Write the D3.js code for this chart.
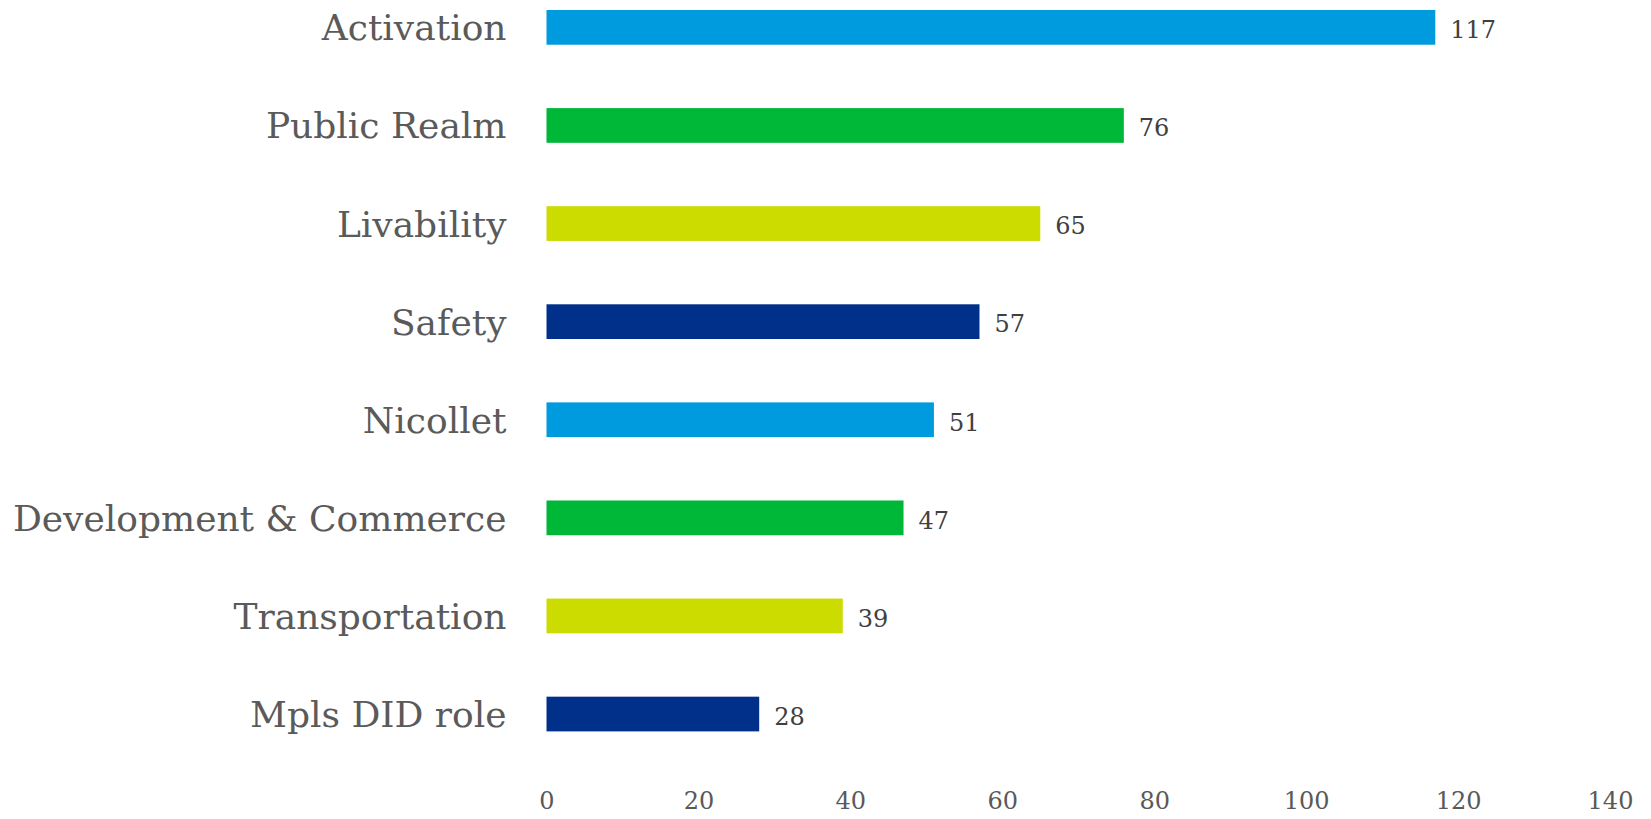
<!DOCTYPE html>
<head>
  <title>bars by topic</title>
  <style>
    body { margin: 0; background: #fff; }
    .cat { font-family: "DejaVu Serif", serif; font-size: 36px; fill: #5a5a5a; }
    .val { font-family: "DejaVu Serif", serif; font-size: 24px; fill: #404040; }
    .axis text { font-family: "DejaVu Serif", serif; font-size: 24px; fill: #595959; }
  </style>
</head>
<body>
  <script src="https://cdn.jsdelivr.net/npm/d3@7"></script>
  <script>
    // data
    var categories = ["Activation", "Public Realm", "Livability", "Safety", "Nicollet",
                      "Development & Commerce", "Transportation", "Mpls DID role"];
    var counts = [117, 76, 65, 57, 51, 47, 39, 28];
    var barColors = ["#009ade", "#00b837", "#ccdb00", "#00308a"];
    var xTicks = [0, 20, 40, 60, 80, 100, 120, 140];

    var width = 1651, height = 819;

    var svg = d3.select('body')
                .append('svg')
                    .attr('width', width)
                    .attr('height', height);

    var xScale = d3.scaleLinear().domain([0, 140]).range([546.5, 1610]);
    var yScale = d3.scaleBand()
                   .domain(categories)
                   .range([10, 731.4])
                   .paddingInner(0.646)
                   .paddingOuter(0);

    var data = categories.map(function(c, i) { return {name: c, value: counts[i], idx: i}; });

    // bars
    svg.selectAll('rect.bar')
      .data(data)
      .enter()
      .append('rect')
      .attr('class', 'bar')
      .attr('x', xScale(0))
      .attr('y', function(d) { return yScale(d.name); })
      .attr('width', function(d) { return xScale(d.value) - xScale(0); })
      .attr('height', yScale.bandwidth())
      .attr('fill', function(d) { return barColors[d.idx % barColors.length]; });

    // category labels
    svg.selectAll('text.cat')
      .data(data)
      .enter()
      .append('text')
      .attr('class', 'cat')
      .attr('text-anchor', 'end')
      .attr('x', xScale(0) - 40)
      .attr('y', function(d) { return yScale(d.name) + yScale.bandwidth() / 2; })
      .attr('dy', '0.36em')
      .text(function(d) { return d.name; });

    // value labels
    svg.selectAll('text.val')
      .data(data)
      .enter()
      .append('text')
      .attr('class', 'val')
      .attr('x', function(d) { return xScale(d.value) + 15; })
      .attr('y', function(d) { return yScale(d.name) + yScale.bandwidth() / 2; })
      .attr('dy', '0.45em')
      .text(function(d) { return d.value; });

    // x axis, labels only
    var x_axis = d3.axisBottom(xScale).tickValues(xTicks).tickSize(0).tickPadding(8);
    var gx = svg.append('g')
      .attr('class', 'axis')
      .attr('transform', 'translate(0,784)')
      .call(x_axis);
    gx.select('.domain').remove();
  </script>
</body>
